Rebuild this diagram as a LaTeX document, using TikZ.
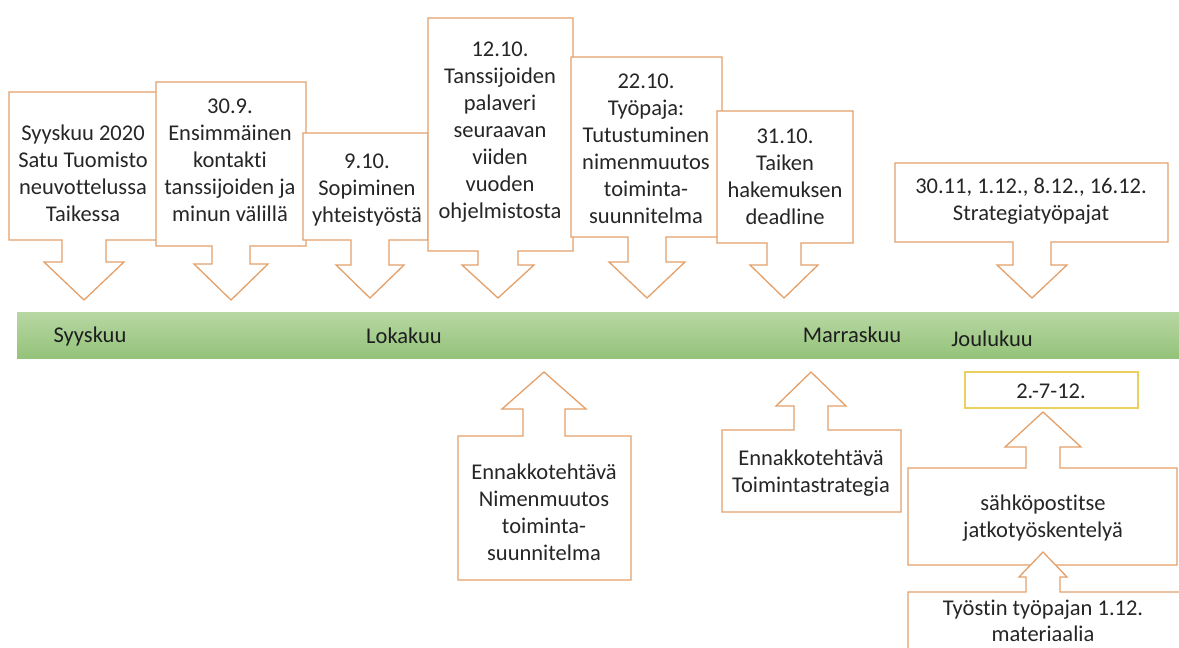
\documentclass[tikz,border=0pt]{standalone}
\usepackage{fontspec}
\setmainfont{Carlito}[RawFeature={-liga;-clig;-calt;-dlig}]
\definecolor{callline}{RGB}{228,160,105}
\definecolor{txt}{RGB}{38,38,38}
\definecolor{bartop}{RGB}{183,215,163}
\definecolor{barbot}{RGB}{148,195,122}
\definecolor{goldline}{RGB}{235,208,95}
\newcommand\callout[9]{%
  \draw[callbox] (#1,#2) -- (#3,#2) -- (#3,#4) -- ({#5+#6},#4) -- ({#5+#6},#7)
    -- ({#5+#8},#7) -- (#5,#9) -- ({#5-#8},#7) -- ({#5-#6},#7) -- ({#5-#6},#4)
    -- (#1,#4) -- cycle;}
\begin{document}
\begin{tikzpicture}[x=1pt,y=-1pt,
  callbox/.style={draw=callline,line width=1.3pt,fill=white,line join=miter},
  lbl/.style={text=txt,align=center,inner sep=0pt,font=\fontsize{22.5}{27}\selectfont},
  month/.style={text=txt!80!black,inner sep=0pt,font=\fontsize{22.5}{27}\selectfont}]
\useasboundingbox[fill=white] (0,0) rectangle (1179,648);
% timeline bar
\shade[top color=bartop,bottom color=barbot] (17,312) rectangle (1179,358);
\node[month] (m1) at (90,336) {Syyskuu};
\node[month] (m2) at (404,336) {Lokakuu};
\node[month] (m3) at (852,335) {Marraskuu};
\node[month] (m4) at (992,339) {Joulukuu};
% upper callouts
\callout{9}{92}{157}{240}{84}{22}{262}{40}{300}
\node[lbl] (b1) at (83,173) {Syyskuu 2020\\Satu Tuomisto\\neuvottelussa\\Taikessa};
\callout{156}{82}{306}{246}{231}{19}{264}{37}{300}
\node[lbl] (b2) at (230,160) {30.9.\\Ensimmäinen\\kontakti\\tanssijoiden ja\\minun välillä};
\callout{303}{133}{428}{240}{370}{19}{265}{34}{298}
\node[lbl] (b3) at (367,190) {9.10.\\Sopiminen\\yhteistyöstä};
\callout{428}{18}{573}{251}{498}{20}{265}{36}{298}
\node[lbl] (b4) at (500,132) {12.10.\\Tanssijoiden\\palaveri\\seuraavan\\viiden\\vuoden\\ohjelmistosta};
\callout{571}{57}{722}{237}{647}{19}{262}{38}{298}
\node[lbl] (b5) at (646,149) {22.10.\\Työpaja:\\Tutustuminen\\nimenmuutos\\toiminta-\\suunnitelma};
\callout{717}{111}{853}{243}{784}{17}{265}{34}{298}
\node[lbl] (b6) at (785,177) {31.10.\\Taiken\\hakemuksen\\deadline};
\callout{895}{163}{1168}{242}{1032}{19}{265}{35}{298}
\node[lbl] (b7) at (1031,201) {30.11, 1.12., 8.12., 16.12.\\Strategiatyöpajat};
% lower callouts
\callout{458}{580}{631}{436}{544}{21}{409}{42}{372}
\node[lbl] (a1) at (544,512) {Ennakkotehtävä\\Nimenmuutos\\toiminta-\\suunnitelma};
\callout{722}{512}{901}{430}{811}{17}{406}{35}{372}
\node[lbl] (a2) at (811,473) {Ennakkotehtävä\\Toimintastrategia};
\draw[draw=goldline,line width=1.1pt,fill=white] (965,372) rectangle (1138,408);
\node[lbl] (y1) at (1051,391) {2.-7-12.};
\callout{908}{565}{1177}{468}{1043}{17}{447}{38}{412}
\node[lbl] (a3) at (1043,518) {sähköpostitse\\jatkotyöskentelyä};
\callout{908}{670}{1182}{592}{1043}{17}{577}{24}{552}
\node[lbl,font=\fontsize{22.5}{26}\selectfont] (a4) at (1043,621) {Työstin työpajan 1.12.\\materiaalia};
\end{tikzpicture}
\end{document}
